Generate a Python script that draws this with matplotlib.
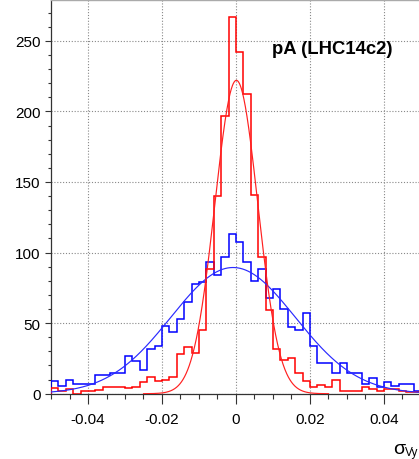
import numpy as np
import matplotlib
matplotlib.use("Agg")
import matplotlib.pyplot as plt

plt.rcParams['font.family'] = ['Liberation Sans', 'DejaVu Sans']
plt.rcParams['axes.unicode_minus'] = False

# ---- data ----
bin_lo, bin_hi, n_bins = -0.05, 0.05, 50
red_counts = [4, 2, 3, 0, 2, 2, 2.5, 5, 4.5, 4.5, 4, 5, 8, 12, 9, 10, 12, 28, 33, 29,
              45, 88, 140, 197, 267,
              242, 212, 141, 97, 59, 32, 24, 25, 15, 9, 5, 6.5, 5, 10, 2, 2, 2, 4.5,
              3.5, 2, 3, 3, 2, 1.5, 1.5]
blue_counts = [9, 5.2, 10, 7, 7, 7, 13, 13, 15, 15, 27, 23.5, 17, 32, 34, 48, 44, 53,
               65, 78, 79, 93, 84, 97, 113,
               107.5, 93, 80, 88, 68, 74.5, 60, 47, 45, 57.5, 34, 22, 22, 14.4, 22, 15,
               15, 7, 11, 4.5, 8.5, 5.2, 7, 7, 2]
# Gaussian fit parameters (amplitude, mean, sigma) and fit ranges
red_fit = (222.0, 0.0001, 0.0058)
red_fit_range = (-0.025, 0.025)
blue_fit = (89.4, -0.0008, 0.0168)
blue_fit_range = (-0.05, 0.05)
x_ticks = [-0.04, -0.02, 0, 0.02, 0.04]
x_tick_labels = ['-0.04', '-0.02', '0', '0.02', '0.04']
y_ticks = [0, 50, 100, 150, 200, 250]
title_text = 'pA (LHC14c2)'

W, H = 419, 460
fig = plt.figure(figsize=(W / 100, H / 100), dpi=100)
ax = fig.add_axes([51 / W, 1 - 394.7 / H, (421 - 51) / W, (394.7 - 0.6) / H])

edges = np.linspace(bin_lo, bin_hi, n_bins + 1)

def gauss(x, p):
    a, m, s = p
    return a * np.exp(-0.5 * ((x - m) / s) ** 2)

ax.stairs(blue_counts, edges, color='#0000ff', lw=1.1, zorder=3)
ax.stairs(red_counts, edges, color='#ff0000', lw=1.1, zorder=4)
xb = np.linspace(*blue_fit_range, 600)
ax.plot(xb, gauss(xb, blue_fit), color='#2a2aff', lw=0.85, zorder=5)
xr = np.linspace(*red_fit_range, 600)
ax.plot(xr, gauss(xr, red_fit), color='#ff2020', lw=0.85, zorder=6)

ax.set_xlim(bin_lo, bin_hi)
ax.set_ylim(0, 279.2)
ax.set_xticks(x_ticks)
ax.set_xticklabels(x_tick_labels)
ax.set_yticks(y_ticks)
ax.set_xticks(np.arange(-0.05, 0.0501, 0.005), minor=True)
ax.set_yticks(np.arange(0, 280, 10), minor=True)
ax.tick_params(axis='x', which='major', direction='out', length=7.2, width=0.8,
               pad=6.0, labelsize=11, color='#333333')
ax.tick_params(axis='x', which='minor', direction='out', length=3.6, width=0.8,
               color='#333333')
ax.tick_params(axis='y', which='major', direction='out', length=4.0, width=0.8,
               pad=3.5, labelsize=11, color='#333333')
ax.tick_params(axis='y', which='minor', direction='out', length=2.3, width=0.8,
               color='#333333')
ax.grid(True, which='major', color='#888888', linestyle=(0, (1, 1.6)), lw=0.8)
ax.set_axisbelow(True)

for s in ['left', 'bottom']:
    ax.spines[s].set_color('#333333')
    ax.spines[s].set_linewidth(0.9)
ax.spines['top'].set_color('#aaaaaa')
ax.spines['top'].set_linewidth(1.0)
ax.spines['right'].set_visible(False)

fig.text(332 / W, 1 - 50 / H, title_text, ha='center', va='center',
         fontsize=13.3, fontweight='bold')
fig.text(393 / W, 1 - 450 / H, 'σ', ha='left', va='center', fontsize=14)
fig.text(405 / W, 1 - 453 / H, 'Vy', ha='left', va='center', fontsize=8.5)

fig.savefig('out.png', dpi=100)
